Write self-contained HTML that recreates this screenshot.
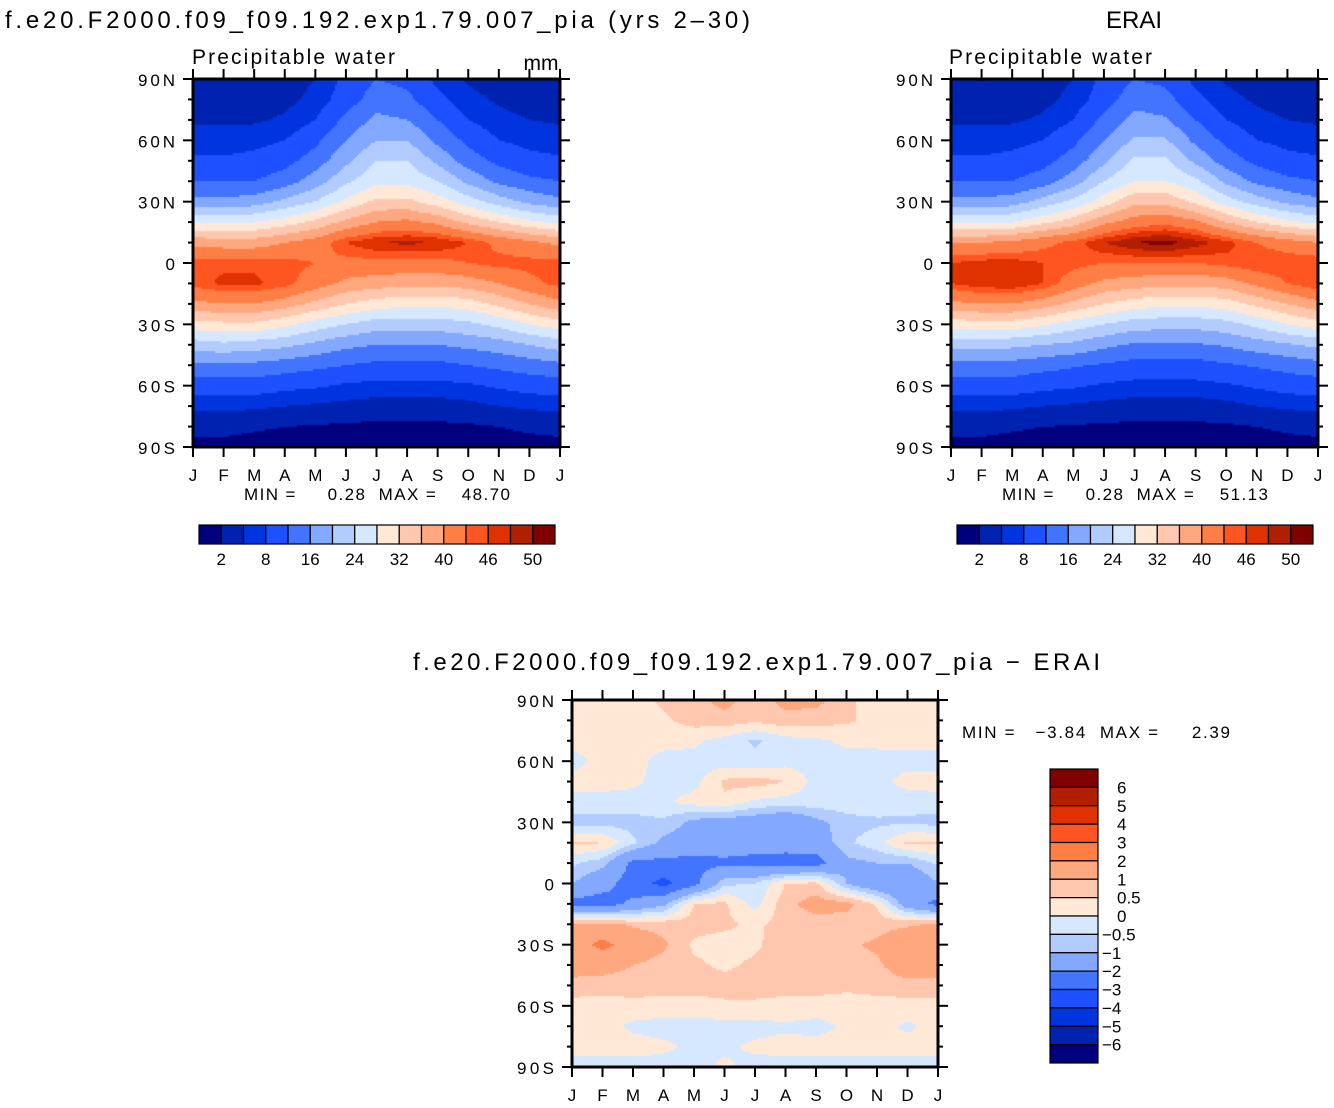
<!DOCTYPE html>
<html><head><meta charset="utf-8"><style>
body{margin:0;background:#fff;width:1334px;height:1108px;overflow:hidden;position:relative;font-family:"Liberation Sans",sans-serif;}
canvas{position:absolute;}
svg{position:absolute;left:0;top:0;}
text{white-space:pre;}
</style></head><body>
<canvas id="c1" width="367" height="368" style="left:193px;top:79px"></canvas>
<canvas id="c2" width="367" height="368" style="left:951px;top:79px"></canvas>
<canvas id="c3" width="366" height="367" style="left:572px;top:700px"></canvas>
<svg id="ov" width="1334" height="1108"></svg>
<script>
const months=["J","F","M","A","M","J","J","A","S","O","N","D","J"];
const latLabels=["90N","60N","30N","0","30S","60S","90S"];
const topLevels=[2,5,8,12,16,20,24,28,32,36,40,44,46,48,50];
const topLabels=["2","8","16","24","32","40","46","50"];
const diffLevels=[-6,-5,-4,-3,-2,-1,-0.5,0,0.5,1,2,3,4,5,6];
const diffLabels=["6","5","4","3","2","1","0.5","0","\u22120.5","\u22121","\u22122","\u22123","\u22124","\u22125","\u22126"];
const palette=["#00007f","#0022b0","#0034de","#1e50ff","#4274ff","#82a8ff","#b2ccff","#d6e8ff","#ffe8d6","#ffc8ae","#ffa880","#ff7e46","#ff5520","#e03200","#b21e00","#800000"];
// rows: 90N..90S every 10 deg; cols: J..J
const modelPW=[
[3,3,3,3.5,5,9,12,11,7,4.5,3.5,3,3],
[3.5,3.5,3.5,4,6,10,14,13,9,6,4.5,3.5,3.5],
[4.5,4.5,4.5,5.5,8,13,17,16,12,8,6,5,4.5],
[6.5,6.5,7,8,11,16,20,20,15,11,8,7,6.5],
[8.5,8.5,9,10.5,14,19,24,24,19,14,11,9,8.5],
[12,12,12,14,18,23,27,27,24,19,15,13,12],
[17,17,18,21,24,29,33,33,30,26,22,19,17],
[27,27,28,30,33,37,40,41,39,35,32,29,27],
[39,38,38,40,42,46,48,48.5,48,46,43,41,39],
[45,45.5,45.5,45,44,43,43,43,43,44,45,45,45],
[45,46.5,46.5,45,42,39,38,37,37,38,40,43,45],
[39,40,40,38,35,32,30,29,29,30,33,36,39],
[30,31,31,29,26,24,22,22,22,23,25,28,30],
[22,23,22,21,19,17,16,16,16,17,18,20,22],
[15,15,15,14,13,12,11,11,11,12,13,14,15],
[10,10,10,9,8.5,7.5,7,7,7,7.5,8.5,9.5,10],
[6,6,5.5,5,4.5,4,3.5,3.5,3.5,4,5,5.5,6],
[2.5,2.5,2.2,2,1.8,1.5,1.5,1.5,1.5,1.6,2,2.3,2.5],
[1.5,1.5,1.4,1.2,1,0.8,0.8,0.8,0.8,0.9,1.2,1.4,1.5]];
const eraiPW=[
[2.5,1.8,2.8,3.5,5,9,12,11,7,4.5,3.5,3,2.5],
[3.5,3.5,3.5,4,6,10,14.5,13.5,9,6,4.5,3.5,3.5],
[4.5,4.5,4.5,5.5,8,13,17.5,16.5,12,8,6,5,4.5],
[6.5,6.5,7,8,11,16,20.5,20.5,15,11,8,7,6.5],
[8.5,8.5,9,10.5,14,19,25,25,19,14,11,9,8.5],
[12,12,12,14,18,24,28,28,25,19,15,13,12],
[17,17,18,21.5,25,30,35,35,31,26,22,19,17],
[27,27,28,31,34,39,42,43,41,36,32,29,27],
[40,40,41,43,45,48,50,51,49,47,44,42,40],
[46,47,47,46,45,44,44,44,44,45,46,46,46],
[46,47.5,48,46,42,39,38,37,37,38,41,44,46],
[39,40,40,38,35,32,30,29,29,30,33,36,39],
[30,30,30,28.5,26,24,22,21.5,21.5,22.5,25,28,30],
[21,21.5,21,20,19,17,15.5,15.5,15.5,16.5,18,19.5,21],
[14.5,14.5,14.5,13.5,12.5,11.5,10.5,10.5,10.5,11.5,12.5,13.5,14.5],
[10,10,10,9,8.5,7.5,7,7,7,7.5,8.5,9.5,10],
[6,6,5.5,5,4.5,4,3.5,3.5,3.5,4,5,5.5,6],
[2.5,2.5,2.2,2,1.8,1.5,1.5,1.5,1.5,1.6,2,2.3,2.5],
[1.5,1.5,1.4,1.2,1,0.8,0.8,0.8,0.8,0.9,1.2,1.4,1.5]];
const diffPW=[
[0.3,0.3,0.3,0.6,0.8,1.2,0.7,1.2,1.2,0.6,0.3,0.3,0.3],
[0.3,0.3,0.3,0.4,0.7,0.8,0.6,0.8,0.7,0.6,0.3,0.3,0.3],
[0.2,0.2,0.2,0.2,0.1,-0.2,-0.6,-0.2,-0.1,0.1,0.2,0.2,0.2],
[-0.2,0.2,0.2,-0.2,-0.2,-0.3,-0.3,-0.2,-0.2,-0.2,-0.3,-0.2,-0.2],
[0.2,0.2,0.1,-0.2,-0.2,0.6,0.7,0.5,-0.2,-0.2,-0.2,0.2,0.2],
[-0.2,-0.2,-0.2,-0.1,0.2,0.4,-0.1,-0.2,-0.2,-0.2,-0.2,-0.3,-0.2],
[-0.7,-0.7,-0.7,-0.6,-1.2,-1.4,-1.5,-1.8,-1.2,-0.7,-0.6,-0.6,-0.7],
[0.6,0.5,-0.4,-1.2,-1.4,-1.5,-1.6,-1.5,-1.5,-0.6,-0.2,0.6,0.6],
[-0.4,-0.8,-2.2,-2.3,-2.3,-2.2,-2.3,-2.5,-2.4,-1.2,-1,-1,-0.4],
[-1,-1.6,-2.5,-3.3,-2.3,-0.6,-0.5,0.5,0.6,-1,-1.8,-1.8,-1],
[-2.3,-2.5,-1.8,-1.2,0.5,0.6,-0.2,0.8,1.3,1.2,0.4,-1.5,-2.3],
[1.1,1.2,0.9,0.8,0.7,0.6,0.4,0.7,0.7,0.7,0.8,0.9,1.1],
[1.4,2.3,1.5,1.1,0.4,0.3,0.4,0.8,0.8,0.9,1.1,1.6,1.7],
[1.3,1.2,1,0.8,0.6,0.4,0.6,0.8,0.8,0.8,0.9,1.4,1.3],
[0.8,0.8,0.8,0.7,0.7,0.7,0.7,0.6,0.7,0.6,0.7,0.8,0.8],
[0.3,0.2,0.3,0.3,0.3,0.4,0.4,0.4,0.3,0.3,0.3,0.3,0.3],
[0.2,0.2,-0.1,-0.2,-0.2,-0.2,-0.2,-0.1,-0.2,0.1,0.2,-0.1,0.2],
[0.2,0.2,0.2,0.1,-0.1,-0.1,0.1,0.2,0.2,0.2,0.2,0.2,0.2],
[-0.2,-0.2,-0.2,-0.2,-0.2,0.1,-0.2,-0.2,-0.2,-0.2,-0.2,-0.2,-0.2]];

function colorFor(v,levels){let i=0;while(i<levels.length&&v>=levels[i])i++;return palette[i];}
function drawField(id,grid,levels){
  const cv=document.getElementById(id),ctx=cv.getContext('2d');
  const W=cv.width,H=cv.height,nr=grid.length,nc=grid[0].length,s=2;
  for(let y=0;y<H;y+=s){for(let x=0;x<W;x+=s){
    const fx=(x+s/2)/W*(nc-1),fy=(y+s/2)/H*(nr-1);
    const i=Math.min(Math.floor(fy),nr-2),j=Math.min(Math.floor(fx),nc-2),ty=fy-i,tx=fx-j;
    const v=grid[i][j]*(1-tx)*(1-ty)+grid[i][j+1]*tx*(1-ty)+grid[i+1][j]*(1-tx)*ty+grid[i+1][j+1]*tx*ty;
    ctx.fillStyle=colorFor(v,levels);ctx.fillRect(x,y,s,s);}}
}
drawField('c1',modelPW,topLevels);
drawField('c2',eraiPW,topLevels);
drawField('c3',diffPW,diffLevels);

const NS='http://www.w3.org/2000/svg',ov=document.getElementById('ov');
function el(tag,a,parent){const e=document.createElementNS(NS,tag);for(const k in a)e.setAttribute(k,a[k]);(parent||ov).appendChild(e);return e;}
function txt(x,y,s,size,anchor,name,len){const t=el('text',{x:x,y:y,'font-size':size,'text-anchor':anchor||'start','font-family':'Liberation Sans, sans-serif',fill:'#000'});t.textContent=s;
if(len){t.setAttribute('textLength',len);t.setAttribute('lengthAdjust','spacing');}

return t;}
function axes(x0,y0,w,h,pfx){
  const g=el('g',{});
  
  
  el('rect',{x:x0,y:y0,width:w,height:h,fill:'none',stroke:'#000','stroke-width':3},g);
  for(let k=0;k<=18;k++){const y=y0+h*k/18,L=(k%3==0)?10:5;
    el('line',{x1:x0-L,y1:y,x2:x0,y2:y,stroke:'#000','stroke-width':2},g);
    el('line',{x1:x0+w,y1:y,x2:x0+w+L,y2:y,stroke:'#000','stroke-width':2},g);}
  latLabels.forEach((l,k)=>{txt(x0-18,y0+h*k/6+7,l,17,'end',pfx+'-lat-label',l.length>1?37:null);});
  months.forEach((m,k)=>{const x=x0+w*k/12;
    el('line',{x1:x,y1:y0+h,x2:x,y2:y0+h+10,stroke:'#000','stroke-width':2},g);
    el('line',{x1:x,y1:y0-10,x2:x,y2:y0,stroke:'#000','stroke-width':2},g);
    txt(x,y0+h+34,m,17,'middle',pfx+'-month-label');});
}
axes(193,79,367,368,'model');
axes(951,79,367,368,'erai');
axes(572,700,366,367,'diff');

function hbar(x0,y0,pfx){
  const bw=356/16;
  palette.forEach((c,k)=>{const r=el('rect',{x:x0+k*bw,y:y0,width:bw,height:19,fill:c,stroke:'#000','stroke-width':1.2});
    
    });
  topLabels.forEach((l,k)=>txt(x0+bw*(2*k+1),y0+40,l,17,'middle',pfx+'-colorbar-label'));
}
hbar(199,525,'model');hbar(957,525,'erai');
const vbh=294/16;
palette.slice().reverse().forEach((c,k)=>{const r=el('rect',{x:1050,y:769+k*vbh,width:48,height:vbh,fill:c,stroke:'#000','stroke-width':1.2});
  
  });
diffLabels.forEach((l,k)=>txt(l.startsWith('\u2212')?1102:1117,769+vbh*(k+1)+6,l,17,'start','diff-colorbar-label'));

txt(5,28,"f.e20.F2000.f09_f09.192.exp1.79.007_pia (yrs 2\u201330)",24,'start','model-title',745);
txt(1134,28,"ERAI",24,'middle','erai-title');
txt(192,64,"Precipitable water",21,'start','model-subtitle',203);
txt(541,70,"mm",21,'middle','model-units');
txt(949,64,"Precipitable water",21,'start','erai-subtitle',203);
txt(244,500,"MIN =     0.28  MAX =    48.70",17,'start','model-minmax',266);
txt(1002,500,"MIN =     0.28  MAX =    51.13",17,'start','erai-minmax',266);
txt(413,670,"f.e20.F2000.f09_f09.192.exp1.79.007_pia \u2212 ERAI",24,'start','diff-title',687);
txt(962,738,"MIN =   \u22123.84  MAX =     2.39",17,'start','diff-minmax',268);
</script>
</body></html>
